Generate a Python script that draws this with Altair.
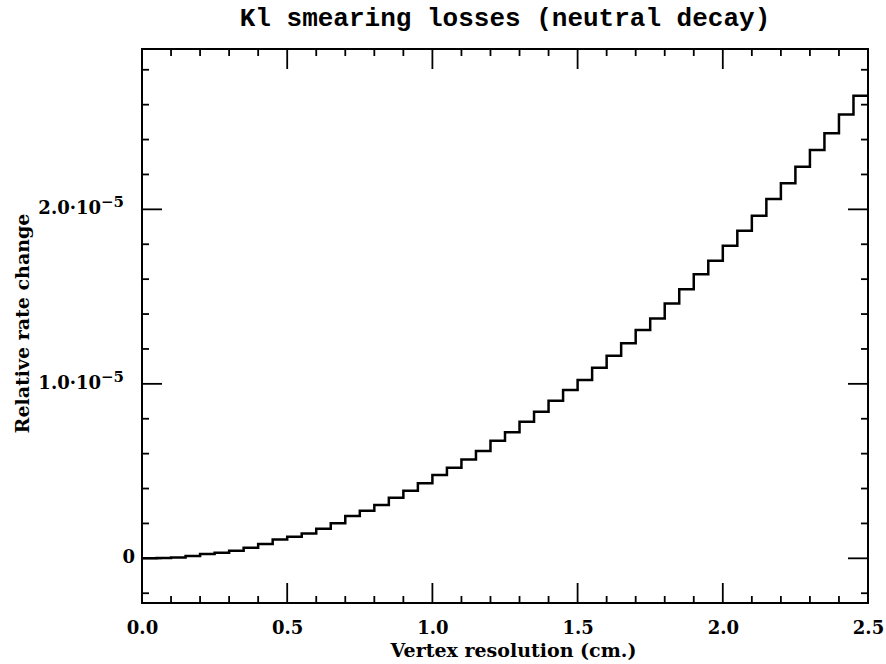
import altair as alt
import pandas as pd

# Bin edges (cm) of the histogram: 50 bins of 0.05 cm from 0 to 2.5
bin_left = [round(0.05 * i, 2) for i in range(50)]
bin_end = 2.5

# Relative rate change per bin, in units of 1e-5
rate_e5 = [
    0.000, 0.002, 0.005, 0.013, 0.025, 0.032, 0.044, 0.061, 0.082, 0.108,
    0.124, 0.143, 0.170, 0.201, 0.242, 0.273, 0.306, 0.347, 0.387, 0.430,
    0.477, 0.519, 0.567, 0.615, 0.674, 0.722, 0.783, 0.840, 0.903, 0.964,
    1.022, 1.092, 1.161, 1.232, 1.308, 1.375, 1.461, 1.542, 1.628, 1.705,
    1.791, 1.877, 1.963, 2.059, 2.149, 2.244, 2.340, 2.436, 2.544, 2.651,
]

x_major = [0.0, 0.5, 1.0, 1.5, 2.0, 2.5]
x_minor = [0.1, 0.2, 0.3, 0.4, 0.6, 0.7, 0.8, 0.9, 1.1, 1.2, 1.3, 1.4,
           1.6, 1.7, 1.8, 1.9, 2.1, 2.2, 2.3, 2.4]
y_major_e5 = [0.0, 1.0, 2.0]
y_minor_e5 = [-0.2, 0.2, 0.4, 0.6, 0.8, 1.2, 1.4, 1.6, 1.8, 2.2, 2.4, 2.6, 2.8]
y_zero_label = "0"
y_mantissa_labels = ["1.0·10", "2.0·10"]
y_exponent = "−5"

x_domain = [0.0, 2.5]
y_domain = [-0.256e-5, 2.919e-5]

W, H = 726, 554
MAJOR, MINOR = 20, 7

step_df = pd.DataFrame({
    "x": bin_left + [bin_end],
    "y": [v * 1e-5 for v in rate_e5] + [rate_e5[-1] * 1e-5],
})
xmaj_df = pd.DataFrame({"x": x_major})
xmin_df = pd.DataFrame({"x": x_minor})
ymaj_df = pd.DataFrame({"y": [v * 1e-5 for v in y_major_e5]})
ymin_df = pd.DataFrame({"y": [v * 1e-5 for v in y_minor_e5]})
nonzero = [v * 1e-5 for v in y_major_e5 if v != 0]
yzero_df = pd.DataFrame({"y": [0.0], "t": [y_zero_label]})
ymant_df = pd.DataFrame({"y": nonzero, "t": y_mantissa_labels})
yexp_df = pd.DataFrame({"y": nonzero, "t": [y_exponent] * len(nonzero)})

xs = alt.Scale(domain=x_domain, nice=False, zero=False)
ys = alt.Scale(domain=y_domain, nice=False, zero=False)

label_font = "DejaVu Serif"

x_axis = alt.Axis(
    values=x_major, format=".1f", ticks=False, domain=False, grid=False,
    labelFont=label_font, labelFontWeight="bold", labelFontSize=18,
    labelColor="black", labelBaseline="alphabetic", labelPadding=30,
    labelFlush=False,
    title="Vertex resolution (cm.)", titleFont=label_font,
    titleFontWeight="bold", titleFontSize=19, titleColor="black",
    titleX=371, titleY=47, titleBaseline="middle", titleAlign="center",
)
y_axis = alt.Axis(
    values=[v * 1e-5 for v in y_major_e5], ticks=False, domain=False,
    grid=False, labels=False,
    title="Relative rate change", titleFont=label_font,
    titleFontWeight="bold", titleFontSize=19, titleColor="black",
    titleX=-120, titleY=274, titleAngle=270, titleBaseline="middle",
    titleAlign="center",
)

step = alt.Chart(step_df).mark_line(
    interpolate="step-after", color="black", strokeWidth=2.5
).encode(
    x=alt.X("x:Q", scale=xs, axis=x_axis),
    y=alt.Y("y:Q", scale=ys, axis=y_axis),
)

def ylabel_layer(df, x_px, align, size, dy, baseline):
    return alt.Chart(df).mark_text(
        align=align, baseline=baseline, dy=dy, font=label_font,
        fontWeight="bold", fontSize=size, color="black",
    ).encode(
        y=alt.Y("y:Q", scale=ys, axis=y_axis),
        x=alt.value(x_px),
        text="t:N",
    )

zero_label = ylabel_layer(yzero_df, -7, "right", 18, 0, "middle")
mant_labels = ylabel_layer(ymant_df, -41, "right", 18, 0, "middle")
exp_labels = ylabel_layer(yexp_df, -41, "left", 15, -2, "alphabetic")

def xticks(df, length):
    bottom = alt.Chart(df).mark_rule(color="black", strokeWidth=1.8).encode(
        x=alt.X("x:Q", scale=xs, axis=x_axis),
        y=alt.value(H), y2=alt.value(H - length),
    )
    top = alt.Chart(df).mark_rule(color="black", strokeWidth=1.8).encode(
        x=alt.X("x:Q", scale=xs, axis=x_axis),
        y=alt.value(0), y2=alt.value(length),
    )
    return [bottom, top]

def yticks(df, length):
    left = alt.Chart(df).mark_rule(color="black", strokeWidth=1.8).encode(
        y=alt.Y("y:Q", scale=ys, axis=y_axis),
        x=alt.value(0), x2=alt.value(length),
    )
    right = alt.Chart(df).mark_rule(color="black", strokeWidth=1.8).encode(
        y=alt.Y("y:Q", scale=ys, axis=y_axis),
        x=alt.value(W), x2=alt.value(W - length),
    )
    return [left, right]

layers = ([step] + xticks(xmaj_df, MAJOR) + xticks(xmin_df, MINOR)
          + yticks(ymaj_df, MAJOR) + yticks(ymin_df, MINOR)
          + [zero_label, mant_labels, exp_labels])

chart = alt.layer(*layers).properties(
    width=W, height=H,
    autosize="none",
    padding={"left": 142, "top": 49, "right": 18, "bottom": 61},
    background="white",
    title=alt.TitleParams(
        "Kl smearing losses (neutral decay)",
        font="Liberation Mono", fontSize=26, fontWeight="bold",
        color="black", anchor="middle", baseline="alphabetic", offset=21,
        dy=25,
    ),
).configure_view(
    stroke="black", strokeWidth=2
)

chart.save("out.html", embed_options={"renderer": "svg", "actions": False})
